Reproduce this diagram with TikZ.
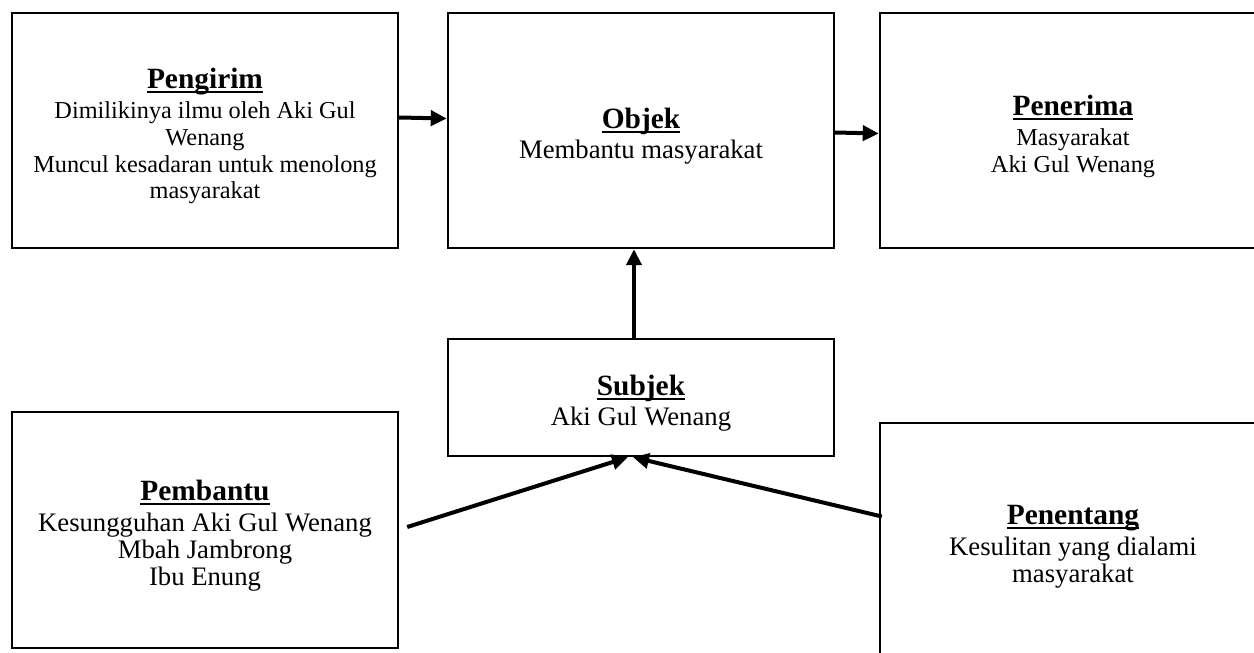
\documentclass[tikz,border=0pt]{standalone}
\usepackage{fontspec}
\setmainfont{Liberation Serif}
\usetikzlibrary{positioning,arrows.meta}

% underlined bold title of a role
\newcommand{\roletitle}[1]{{\fontsize{14.7}{15}\selectfont\bfseries
  \rule{0pt}{16pt}\setbox0\hbox{#1}\rlap{\rule[-2pt]{\wd0}{0.8pt}}\box0}}

\begin{document}
\begin{tikzpicture}[x=0.5pt,y=-0.5pt,
            -{Triangle[length=8pt,width=7.5pt]},line width=2pt,
            role box/.style={rectangle,draw,line width=1.2pt,align=center,
              minimum width=193pt,minimum height=117.5pt,inner sep=0pt,
              font=\fontsize{13.35}{13.6}\selectfont},
            small text/.style={font=\fontsize{12.15}{13.4}\selectfont}]

        \useasboundingbox (0,0) rectangle (1254,653);
        \clip (0,0) rectangle (1254,653);

        % Define boxes
        \node[role box,small text] (pengirim) at (205,130.5) {\roletitle{Pengirim}\\[1.5pt]
            Dimilikinya ilmu oleh Aki Gul\\ Wenang\\
            Muncul kesadaran untuk menolong\\ masyarakat};
        \node[role box] (objek) [right=23.8pt of pengirim]
            {\roletitle{Objek}\\[1.5pt] Membantu masyarakat};
        \node[role box,small text] (penerima) [right=21.8pt of objek]
            {\roletitle{Penerima}\\[1.5pt] Masyarakat\\ Aki Gul Wenang};
        \node[role box,minimum height=58.5pt] (subjek) [below=44.3pt of objek]
            {\roletitle{Subjek}\\[1.5pt] Aki Gul Wenang};
        \node[role box,minimum height=118pt] (pembantu) [below=80.8pt of pengirim]
            {\roletitle{Pembantu}\\[1.5pt] Kesungguhan Aki Gul Wenang\\
            Mbah Jambrong\\ Ibu Enung};
        \node[role box] (penentang) [below=86.3pt of penerima]
            {\roletitle{Penentang}\\[1.5pt] Kesulitan yang dialami\\ masyarakat};

        % Draw arrows
        \path
            ([yshift=6.5pt]pengirim.east) edge ([yshift=6pt]objek.west)
            ([yshift=-1pt]objek.east) edge ([yshift=-1.5pt]penerima.west)
            ([xshift=-3.5pt]subjek.north) edge ([xshift=-3.5pt]objek.south)
            ([xshift=4pt,yshift=1.5pt]pembantu.east) edge ([xshift=-6.5pt]subjek.south)
            ([xshift=1.5pt,yshift=12pt]penentang.west) edge ([xshift=-4pt]subjek.south);

        \end{tikzpicture}
\end{document}
